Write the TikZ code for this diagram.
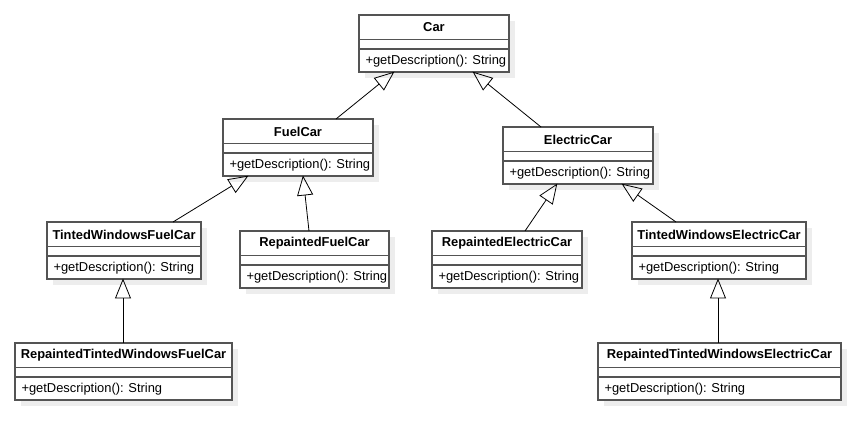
\documentclass[tikz,border=0pt]{standalone}
\usepackage{fontspec}
\setmainfont{Liberation Sans}
\usetikzlibrary{arrows.meta,calc}
\definecolor{boxgray}{rgb}{0.33, 0.33, 0.33}
\definecolor{shadowgray}{rgb}{0.93, 0.93, 0.93}

\tikzset{
  classbox/.style={draw=boxgray, line width=1.1pt, fill=white, inner sep=0pt, outer sep=0pt, minimum height=57pt, anchor=north west},
  classfont/.style={font=\fontsize{12.9}{15}\selectfont},
  inherit/.style={draw=black, line width=0.8pt, -{Triangle[open, length=20pt, width=16pt, line width=0.8pt]}, shorten >=-0.5pt}
}

% name, left, top, width, title
\newcommand{\umlclass}[5]{%
  \fill[shadowgray] (#2+6, #3+6) rectangle (#2+#4+6, #3+63);
  \node[classbox, minimum width=#4pt] at (#2, #3)(#1){};
  \draw[boxgray, line width=1.1pt] ($(#1.north west)+(0,24.5)$) -- ($(#1.north east)+(0,24.5)$);
  \draw[boxgray, line width=1.1pt] ($(#1.north west)+(0,34)$) -- ($(#1.north east)+(0,34)$);
  \node[classfont, font=\fontsize{12.9}{15}\selectfont\bfseries] at ($(#1.north)+(0,12.5)$)(#1-name){#5};
  \node[classfont, anchor=west] at ($(#1.north west)+(3,46)$)(#1-op){+getDescription(): String};
}

\begin{document}
\begin{tikzpicture}[x=1pt, y=-1pt, classfont]

\useasboundingbox[fill=white] (0,0) rectangle (854,427);

%classes
\umlclass{car}{359}{15}{150}{Car}
\umlclass{fuel}{223}{119}{150}{FuelCar}
\umlclass{elec}{503}{127}{150}{ElectricCar}
\umlclass{twf}{47}{222}{154}{TintedWindowsFuelCar}
\umlclass{rf}{240}{231}{149}{RepaintedFuelCar}
\umlclass{re}{432}{231}{150}{RepaintedElectricCar}
\umlclass{twe}{632}{222}{174}{TintedWindowsElectricCar}
\umlclass{rtwf}{15}{343}{217}{RepaintedTintedWindowsFuelCar}
\umlclass{rtwe}{598}{343}{243}{RepaintedTintedWindowsElectricCar}

%inheritance
\draw[inherit] ($(fuel.north west)+(113,0)$) -- ($(car.south west)+(35,0)$);
\draw[inherit] ($(elec.north west)+(38,0)$) -- ($(car.south west)+(114,0)$);
\draw[inherit] ($(twf.north west)+(126,0)$) -- ($(fuel.south west)+(25,0)$);
\draw[inherit] ($(rf.north west)+(69,0)$) -- ($(fuel.south west)+(80,0)$);
\draw[inherit] ($(re.north west)+(93,0)$) -- ($(elec.south west)+(54,0)$);
\draw[inherit] ($(twe.north west)+(44,0)$) -- ($(elec.south west)+(119,0)$);
\draw[inherit] ($(rtwf.north west)+(108,0)$) -- ($(twf.south west)+(76,0)$);
\draw[inherit] ($(rtwe.north west)+(120,0)$) -- ($(twe.south west)+(86,0)$);

\end{tikzpicture}
\end{document}
